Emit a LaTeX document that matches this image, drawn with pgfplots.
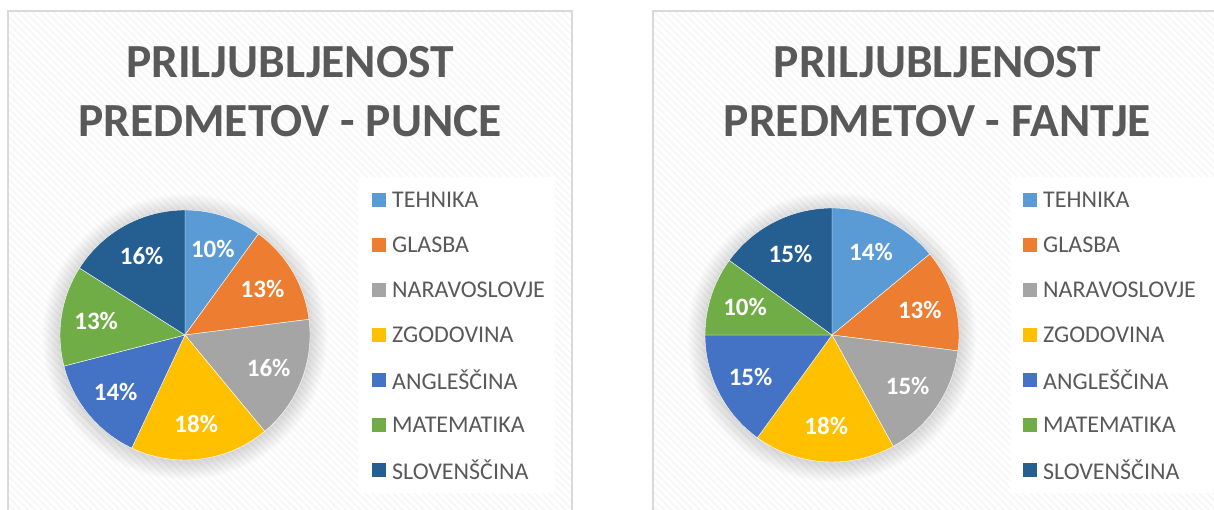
\documentclass[border=0pt]{standalone}
\usepackage{pgfplots}
\pgfplotsset{compat=1.18}
\usepackage{fontspec}
\setmainfont{Carlito}
\usetikzlibrary{patterns.meta}
\definecolor{cTeh}{HTML}{5B9BD5}
\definecolor{cGla}{HTML}{ED7D31}
\definecolor{cNar}{HTML}{A5A5A5}
\definecolor{cZgo}{HTML}{FFC000}
\definecolor{cAng}{HTML}{4472C4}
\definecolor{cMat}{HTML}{70AD47}
\definecolor{cSlo}{HTML}{255E91}
\definecolor{txt}{HTML}{595959}
\definecolor{frame}{HTML}{D9D9D9}

% #1 cx, #2 cy (pixel, from top), #3 radius, #4 list value/colour
\newcommand\drawpie[4]{%
  \pgfmathsetmacro\cyy{510-#2}%
  \foreach \k in {1,...,18}{%
    \pgfmathsetmacro\rr{#3+\k}%
    \fill[black,opacity=0.009] (axis cs:#1,\cyy-2) circle[radius=\rr pt];
  }%
  \gdef\cum{0}%
  \foreach \v/\c in {#4}{%
    \pgfmathsetmacro\a{90-3.6*\cum}%
    \pgfmathsetmacro\b{90-3.6*(\cum+\v)}%
    \pgfmathsetmacro\m{(\a+\b)/2}%
    \pgfmathsetmacro\lr{0.72*#3}%
    \fill[\c,draw=white,line width=0.4pt] (axis cs:#1,\cyy) -- ++(\a:#3pt) arc[start angle=\a, end angle=\b, radius=#3pt] -- cycle;
    \node[text=white,font=\bfseries\fontsize{25}{29}\selectfont] at ([shift={(\m:\lr pt)}]axis cs:#1,\cyy) {\v\%};
    \pgfmathsetmacro\newcum{\cum+\v}%
    \xdef\cum{\newcum}%
  }%
}
% #1 x of square, #2 x of text
\newcommand\drawlegend[2]{%
  \foreach \n/\c [count=\i from 0] in {TEHNIKA/cTeh,GLASBA/cGla,NARAVOSLOVJE/cNar,ZGODOVINA/cZgo,ANGLEŠČINA/cAng,MATEMATIKA/cMat,SLOVENŠČINA/cSlo}{%
    \pgfmathsetmacro\yy{510-(200+45*\i)}%
    \fill[\c] (axis cs:#1,\yy-7) rectangle (axis cs:#1+14,\yy+7);
    \node[anchor=west,inner sep=0pt,text=txt,font=\fontsize{24}{28}\selectfont] at (axis cs:#2,\yy) {\n};
  }%
}

\begin{document}
\begin{tikzpicture}
\begin{axis}[
  width=1214pt, height=510pt, scale only axis,
  xmin=0, xmax=1214, ymin=0, ymax=510,
  hide axis,
]
\pgfplotsextra{%
  % panels
  \fill[white] (axis cs:0,0) rectangle (axis cs:1214,510);
  \fill[white] (axis cs:8,-10) rectangle (axis cs:572,499);
  \fill[pattern={Lines[angle=-45,distance=5pt,line width=1.8pt]},pattern color=black!3] (axis cs:8,-10) rectangle (axis cs:572,499);
  \draw[frame,line width=1.6pt] (axis cs:8,-10) rectangle (axis cs:572,499);
  \fill[white] (axis cs:653,-10) rectangle (axis cs:1222,499);
  \fill[pattern={Lines[angle=-45,distance=5pt,line width=1.8pt]},pattern color=black!3] (axis cs:653,-10) rectangle (axis cs:1222,499);
  \draw[frame,line width=1.6pt] (axis cs:653,-10) rectangle (axis cs:1222,499);
  % legend boxes
  \fill[white] (axis cs:358,510-493) rectangle (axis cs:555,510-177);
  \fill[white] (axis cs:1011,510-493) rectangle (axis cs:1214,510-177);
  % titles
  \node[anchor=base,text=txt,font=\bfseries\fontsize{47.5}{56}\selectfont,inner sep=0pt] at (axis cs:290,510-78) {PRILJUBLJENOST};
  \node[anchor=base,text=txt,font=\bfseries\fontsize{47.5}{56}\selectfont,inner sep=0pt] at (axis cs:290,510-137) {PREDMETOV - PUNCE};
  \node[anchor=base,text=txt,font=\bfseries\fontsize{47.5}{56}\selectfont,inner sep=0pt] at (axis cs:937.5,510-78) {PRILJUBLJENOST};
  \node[anchor=base,text=txt,font=\bfseries\fontsize{47.5}{56}\selectfont,inner sep=0pt] at (axis cs:937.5,510-137) {PREDMETOV - FANTJE};
  % pies
  \drawpie{185}{335}{125}{10/cTeh,13/cGla,16/cNar,18/cZgo,14/cAng,13/cMat,16/cSlo}
  \drawpie{832}{335}{127}{14/cTeh,13/cGla,15/cNar,18/cZgo,15/cAng,10/cMat,15/cSlo}
  % legends
  \drawlegend{372}{392}
  \drawlegend{1023}{1043}
}
\end{axis}
\end{tikzpicture}
\end{document}
